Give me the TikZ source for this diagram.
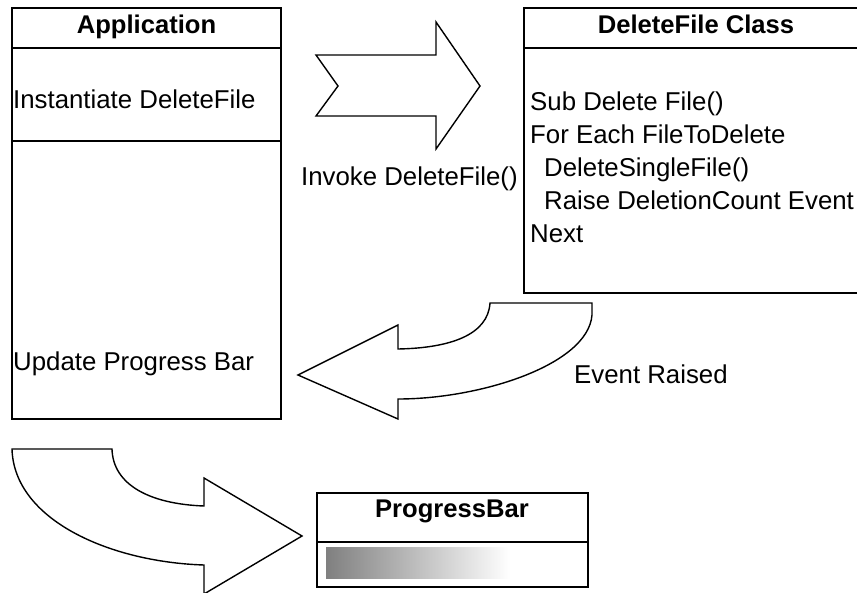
\documentclass[tikz,border=0pt]{standalone}
\usepackage{fontspec}
\setmainfont{Liberation Sans}
\usetikzlibrary{positioning}

\begin{document}
\begin{tikzpicture}[x=1pt, y=-1pt, font=\fontsize{25.8}{30}\selectfont,
  box/.style={draw, line width=1.8pt},
  bigarrow/.style={draw, line width=1.4pt, line join=miter, fill=white},
  txt/.style={inner sep=0pt, anchor=base west},
  boxtitle/.style={inner sep=0pt, anchor=base, font=\fontsize{25.6}{30}\selectfont\bfseries}]
  \useasboundingbox (0,0) rectangle (857,592);
  \clip (0,0) rectangle (857,592);
  % Application
  \draw[box] (12,8) rectangle (281,419);
  \draw[box] (12,48) -- (281,48);
  \draw[box] (12,141) -- (281,141);
  \node[boxtitle] (apptitle) at (146.5,33.5) {Application};
  \node[txt] (instantiate) at (13,108) {Instantiate DeleteFile};
  \node[txt] (update) at (13,370) {Update Progress Bar};
  % DeleteFile class
  \draw[box] (524,8) rectangle (868,293);
  \draw[box] (524,48) -- (868,48);
  \node[boxtitle] (dftitle) at (696,33.5) {DeleteFile Class};
  \node[txt] (subdel) at (530,110) {Sub Delete File()};
  \node[txt] (foreach) at (530,143) {For Each FileToDelete};
  \node[txt] (single) at (544,176) {DeleteSingleFile()};
  \node[txt] (raise) at (544,209) {Raise DeletionCount Event};
  \node[txt] (next) at (530,242) {Next};
  % ProgressBar
  \draw[box] (317,493) rectangle (588,587);
  \draw[box] (317,542) -- (588,542);
  \node[boxtitle] (pbtitle) at (452,517) {ProgressBar};
  \fill[left color=black!50, right color=white] (326,547) rectangle (510,578);
  % block arrows
  \draw[bigarrow] (316,55) -- (436,55) -- (436,22) -- (480,86) -- (436,149)
    -- (436,116) -- (316,116) -- (338,86) -- cycle;
  \node[txt] (invoke) at (301,185) {Invoke DeleteFile()};
  \draw[bigarrow] (490,303) -- (592,303) -- (592,315)
    .. controls (588,365) and (480,399) .. (398,399) -- (398,419) -- (298,375)
    -- (398,325) -- (398,349) .. controls (450,348) and (488,335) .. (490,303) -- cycle;
  \node[txt] (raised) at (574,383) {Event Raised};
  \draw[bigarrow] (112,449) -- (12,449) .. controls (14,520) and (110,562) .. (204,565)
    -- (204,594) -- (302,536) -- (204,478) -- (204,506)
    .. controls (150,504) and (113,485) .. (112,449) -- cycle;
\end{tikzpicture}
\end{document}
